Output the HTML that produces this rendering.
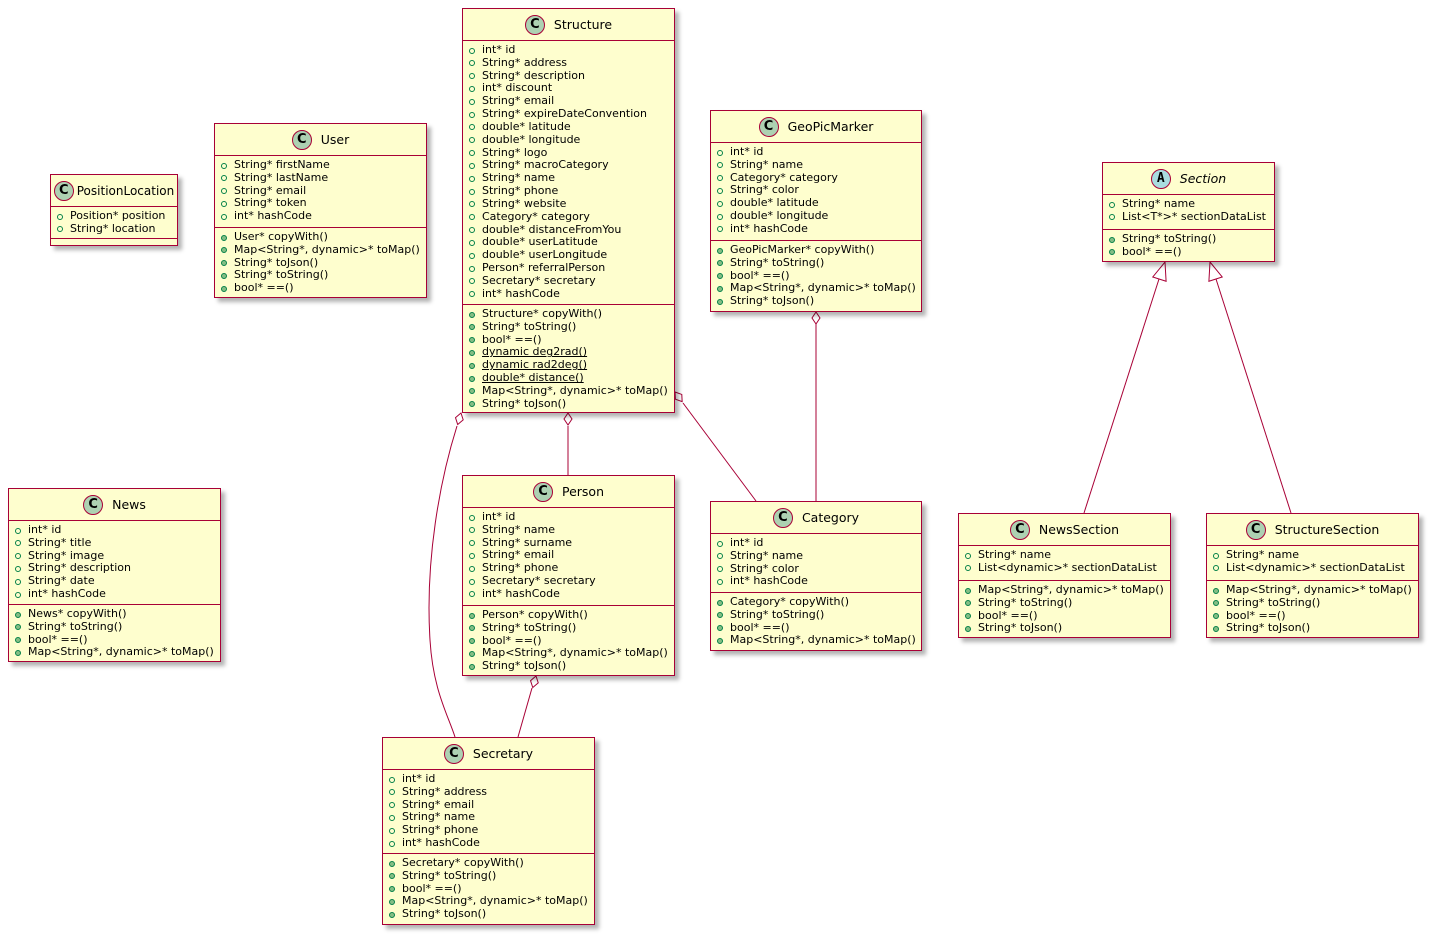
<!DOCTYPE html>
<html><head><meta charset="utf-8">
<style>
body{margin:0;width:1431px;height:937px;background:#fff;position:relative;overflow:hidden;font-family:"DejaVu Sans","Liberation Sans",sans-serif;}
svg.lines{position:absolute;left:0;top:0;}
.c{position:absolute;background:#FEFECE;border:1.5px solid #A80036;box-sizing:border-box;box-shadow:4px 4px 4px rgba(0,0,0,0.3);font-size:11px;color:#000;}
.h{height:32px;border-bottom:1.5px solid #A80036;display:flex;align-items:center;justify-content:center;font-size:12.5px;box-sizing:border-box;}
.ic{width:20px;height:20px;border-radius:50%;background:#ADD1B2;border:1px solid #A80036;display:inline-flex;align-items:center;justify-content:center;font-weight:bold;font-size:13px;margin-right:9px;box-sizing:border-box;}
.ic.a{background:#A9DCDF;font-family:"DejaVu Sans Mono",monospace;}
.s{padding-top:3px;box-sizing:border-box;}
.s.b{border-bottom:1.5px solid #A80036;}
.r{height:12.84px;line-height:12.84px;padding-left:19px;position:relative;white-space:nowrap;}
.r::before{content:"";position:absolute;left:6px;top:3.5px;width:6px;height:6px;border-radius:50%;border:1px solid #038048;box-sizing:border-box;}
.m::before{background:#84BE84;border-color:#038048;}
.u{text-decoration:underline;}
.it{font-style:italic;}
</style></head><body>
<svg class="lines" width="1431" height="937" viewBox="0 0 1431 937">
<g stroke="#A80036" stroke-width="1" fill="none">
<path d="M457,426 C440,480 425,560 430,640 C433,690 448,715 455,737"/>
<line x1="568" y1="426" x2="568" y2="475"/>
<line x1="683" y1="403" x2="756" y2="501"/>
<line x1="816" y1="324" x2="816" y2="501"/>
<line x1="532" y1="688" x2="518" y2="737"/>
<line x1="1159" y1="279" x2="1084" y2="513"/>
<line x1="1216" y1="279" x2="1291" y2="513"/>
</g>
<g stroke="#A80036" stroke-width="1" fill="#fff">
<polygon points="0,0 6,-4 12,0 6,4" transform="translate(461,413) rotate(106)"/>
<polygon points="0,0 6,-4 12,0 6,4" transform="translate(568,413) rotate(90)"/>
<polygon points="0,0 6,-4 12,0 6,4" transform="translate(675,392) rotate(53.4)"/>
<polygon points="0,0 6,-4 12,0 6,4" transform="translate(816,312) rotate(90)"/>
<polygon points="0,0 6,-4 12,0 6,4" transform="translate(536,676) rotate(105.6)"/>
<polygon points="0,0 18,-7 18,7" transform="translate(1165,262) rotate(108)"/>
<polygon points="0,0 18,-7 18,7" transform="translate(1210,262) rotate(72)"/>
</g>
</svg>

<div class="c" style="left:462px;top:8px;width:213px;height:405px;">
<div class="h"><span class="ic">C</span>Structure</div>
<div class="s b" style="height:264px">
<div class="r">int* id</div><div class="r">String* address</div><div class="r">String* description</div><div class="r">int* discount</div><div class="r">String* email</div><div class="r">String* expireDateConvention</div><div class="r">double* latitude</div><div class="r">double* longitude</div><div class="r">String* logo</div><div class="r">String* macroCategory</div><div class="r">String* name</div><div class="r">String* phone</div><div class="r">String* website</div><div class="r">Category* category</div><div class="r">double* distanceFromYou</div><div class="r">double* userLatitude</div><div class="r">double* userLongitude</div><div class="r">Person* referralPerson</div><div class="r">Secretary* secretary</div><div class="r">int* hashCode</div>
</div>
<div class="s">
<div class="r m">Structure* copyWith()</div><div class="r m">String* toString()</div><div class="r m">bool* ==()</div><div class="r m"><span class="u">dynamic deg2rad()</span></div><div class="r m"><span class="u">dynamic rad2deg()</span></div><div class="r m"><span class="u">double* distance()</span></div><div class="r m">Map&lt;String*, dynamic&gt;* toMap()</div><div class="r m">String* toJson()</div>
</div></div>

<div class="c" style="left:214px;top:123px;width:213px;height:175px;">
<div class="h"><span class="ic">C</span>User</div>
<div class="s b" style="height:72px">
<div class="r">String* firstName</div><div class="r">String* lastName</div><div class="r">String* email</div><div class="r">String* token</div><div class="r">int* hashCode</div>
</div>
<div class="s">
<div class="r m">User* copyWith()</div><div class="r m">Map&lt;String*, dynamic&gt;* toMap()</div><div class="r m">String* toJson()</div><div class="r m">String* toString()</div><div class="r m">bool* ==()</div>
</div></div>

<div class="c" style="left:50px;top:174px;width:128px;height:72px;">
<div class="h" style="font-size:12px"><span class="ic" style="margin-right:3px">C</span>PositionLocation</div>
<div class="s b" style="height:32px">
<div class="r">Position* position</div><div class="r">String* location</div>
</div>
<div class="s"></div></div>

<div class="c" style="left:8px;top:488px;width:213px;height:174px;">
<div class="h"><span class="ic">C</span>News</div>
<div class="s b" style="height:84px">
<div class="r">int* id</div><div class="r">String* title</div><div class="r">String* image</div><div class="r">String* description</div><div class="r">String* date</div><div class="r">int* hashCode</div>
</div>
<div class="s">
<div class="r m">News* copyWith()</div><div class="r m">String* toString()</div><div class="r m">bool* ==()</div><div class="r m">Map&lt;String*, dynamic&gt;* toMap()</div>
</div></div>

<div class="c" style="left:710px;top:110px;width:212px;height:202px;">
<div class="h"><span class="ic">C</span>GeoPicMarker</div>
<div class="s b" style="height:98px">
<div class="r">int* id</div><div class="r">String* name</div><div class="r">Category* category</div><div class="r">String* color</div><div class="r">double* latitude</div><div class="r">double* longitude</div><div class="r">int* hashCode</div>
</div>
<div class="s">
<div class="r m">GeoPicMarker* copyWith()</div><div class="r m">String* toString()</div><div class="r m">bool* ==()</div><div class="r m">Map&lt;String*, dynamic&gt;* toMap()</div><div class="r m">String* toJson()</div>
</div></div>

<div class="c" style="left:1102px;top:162px;width:173px;height:100px;">
<div class="h it"><span class="ic a" style="font-style:normal">A</span>Section</div>
<div class="s b" style="height:35px">
<div class="r">String* name</div><div class="r">List&lt;T*&gt;* sectionDataList</div>
</div>
<div class="s">
<div class="r m">String* toString()</div><div class="r m">bool* ==()</div>
</div></div>

<div class="c" style="left:462px;top:475px;width:213px;height:201px;">
<div class="h"><span class="ic">C</span>Person</div>
<div class="s b" style="height:98px">
<div class="r">int* id</div><div class="r">String* name</div><div class="r">String* surname</div><div class="r">String* email</div><div class="r">String* phone</div><div class="r">Secretary* secretary</div><div class="r">int* hashCode</div>
</div>
<div class="s">
<div class="r m">Person* copyWith()</div><div class="r m">String* toString()</div><div class="r m">bool* ==()</div><div class="r m">Map&lt;String*, dynamic&gt;* toMap()</div><div class="r m">String* toJson()</div>
</div></div>

<div class="c" style="left:710px;top:501px;width:212px;height:150px;">
<div class="h"><span class="ic">C</span>Category</div>
<div class="s b" style="height:59px">
<div class="r">int* id</div><div class="r">String* name</div><div class="r">String* color</div><div class="r">int* hashCode</div>
</div>
<div class="s">
<div class="r m">Category* copyWith()</div><div class="r m">String* toString()</div><div class="r m">bool* ==()</div><div class="r m">Map&lt;String*, dynamic&gt;* toMap()</div>
</div></div>

<div class="c" style="left:382px;top:737px;width:213px;height:188px;">
<div class="h"><span class="ic">C</span>Secretary</div>
<div class="s b" style="height:84px">
<div class="r">int* id</div><div class="r">String* address</div><div class="r">String* email</div><div class="r">String* name</div><div class="r">String* phone</div><div class="r">int* hashCode</div>
</div>
<div class="s">
<div class="r m">Secretary* copyWith()</div><div class="r m">String* toString()</div><div class="r m">bool* ==()</div><div class="r m">Map&lt;String*, dynamic&gt;* toMap()</div><div class="r m">String* toJson()</div>
</div></div>

<div class="c" style="left:958px;top:513px;width:213px;height:125px;">
<div class="h"><span class="ic">C</span>NewsSection</div>
<div class="s b" style="height:35px">
<div class="r">String* name</div><div class="r">List&lt;dynamic&gt;* sectionDataList</div>
</div>
<div class="s">
<div class="r m">Map&lt;String*, dynamic&gt;* toMap()</div><div class="r m">String* toString()</div><div class="r m">bool* ==()</div><div class="r m">String* toJson()</div>
</div></div>

<div class="c" style="left:1206px;top:513px;width:213px;height:125px;">
<div class="h"><span class="ic">C</span>StructureSection</div>
<div class="s b" style="height:35px">
<div class="r">String* name</div><div class="r">List&lt;dynamic&gt;* sectionDataList</div>
</div>
<div class="s">
<div class="r m">Map&lt;String*, dynamic&gt;* toMap()</div><div class="r m">String* toString()</div><div class="r m">bool* ==()</div><div class="r m">String* toJson()</div>
</div></div>
</body></html>
